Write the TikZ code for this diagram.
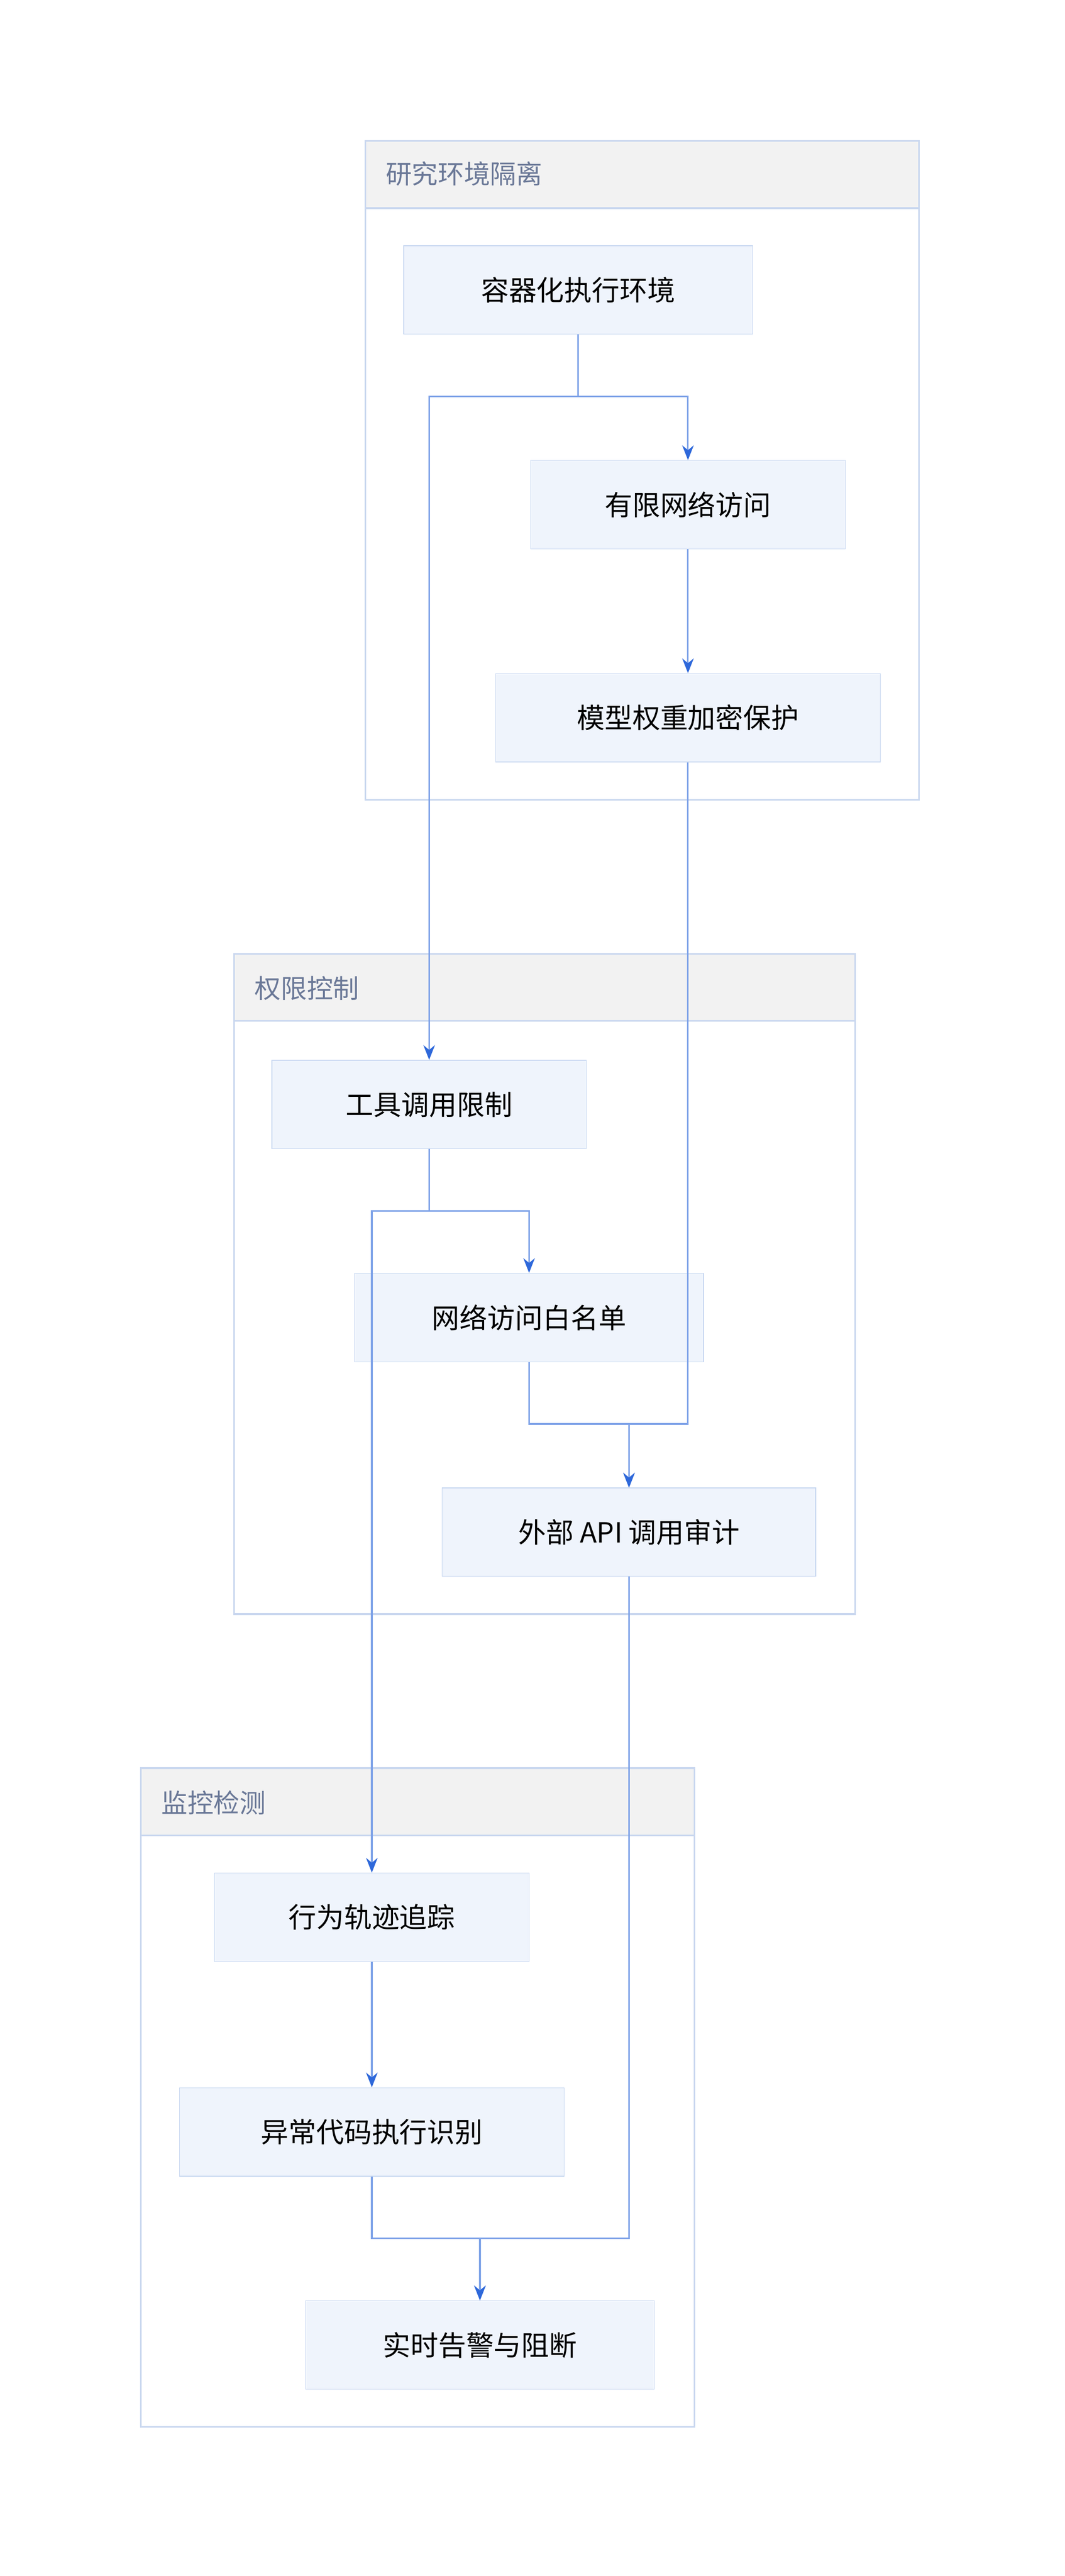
\documentclass[tikz,border=0pt]{standalone}
\usepackage{fontspec}
\setmainfont{Noto Sans CJK SC}
\usetikzlibrary{arrows.meta}
\definecolor{boxfill}{HTML}{EFF4FC}
\definecolor{boxline}{HTML}{C6D6F0}
\definecolor{grpline}{HTML}{C9D7EF}
\definecolor{grphead}{HTML}{F2F2F2}
\definecolor{grptext}{HTML}{6A7897}
\definecolor{edgeline}{HTML}{7FA3E8}
\definecolor{edgehead}{HTML}{2E68DA}
\tikzset{
  stepbox/.style={draw=boxline, fill=boxfill, minimum height=54bp, font=\fontsize{17}{20}\selectfont},
  group/.style={draw=grpline, line width=1pt},
  grouphead/.style={draw=grpline, fill=grphead, line width=1pt},
  grouptitle/.style={anchor=west, text=grptext, font=\fontsize{16}{19}\selectfont},
  flow/.style={draw=edgeline, line width=1pt, -{Stealth[length=9bp,width=7bp,color=edgehead]}}
}
\begin{document}
\begin{tikzpicture}[x=1bp, y=-1bp]
\useasboundingbox (0,0) rectangle (650,1572);
% Research isolation
\draw[group] (223,86) rectangle (561,488);
\draw[grouphead] (223,86) rectangle (561,127);
\node[grouptitle] (isoT) at (232,106) {研究环境隔离};
\node[stepbox, minimum width=213bp] (sandbox) at (353,177) {容器化执行环境};
\node[stepbox, minimum width=192bp] (netlimit) at (420,308) {有限网络访问};
\node[stepbox, minimum width=235bp] (weights) at (420,438) {模型权重加密保护};

% Permission control
\draw[group] (143,582) rectangle (522,985);
\draw[grouphead] (143,582) rectangle (522,623);
\node[grouptitle] (permT) at (152,603) {权限控制};
\node[stepbox, minimum width=192bp] (toollimit) at (262,674) {工具调用限制};
\node[stepbox, minimum width=213bp] (whitelist) at (323,804) {网络访问白名单};
\node[stepbox, minimum width=228bp] (apiaudit) at (384,935) {外部 API 调用审计};

% Monitoring
\draw[group] (86,1079) rectangle (424,1481);
\draw[grouphead] (86,1079) rectangle (424,1120);
\node[grouptitle] (monT) at (95,1100) {监控检测};
\node[stepbox, minimum width=192bp] (trace) at (227,1170) {行为轨迹追踪};
\node[stepbox, minimum width=235bp] (anomaly) at (227,1301) {异常代码执行识别};
\node[stepbox, minimum width=213bp] (alert) at (293,1431) {实时告警与阻断};

% Arrows
\draw[flow] (sandbox.south) |- (420,242) -- (netlimit.north);
\draw[flow] (sandbox.south) |- (262,242) -- (toollimit.north);
\draw[flow] (netlimit) -- (weights);
\draw[flow] (weights.south) |- (384,869) -- (apiaudit.north);
\draw[flow] (toollimit.south) |- (323,739) -- (whitelist.north);
\draw[flow] (toollimit.south) |- (227,739) -- (trace.north);
\draw[flow] (whitelist.south) |- (384,869) -- (apiaudit.north);
\draw[flow] (trace) -- (anomaly);
\draw[flow] (anomaly.south) |- (293,1366) -- (alert.north);
\draw[flow] (apiaudit.south) |- (293,1366) -- (alert.north);
\end{tikzpicture}
\end{document}
